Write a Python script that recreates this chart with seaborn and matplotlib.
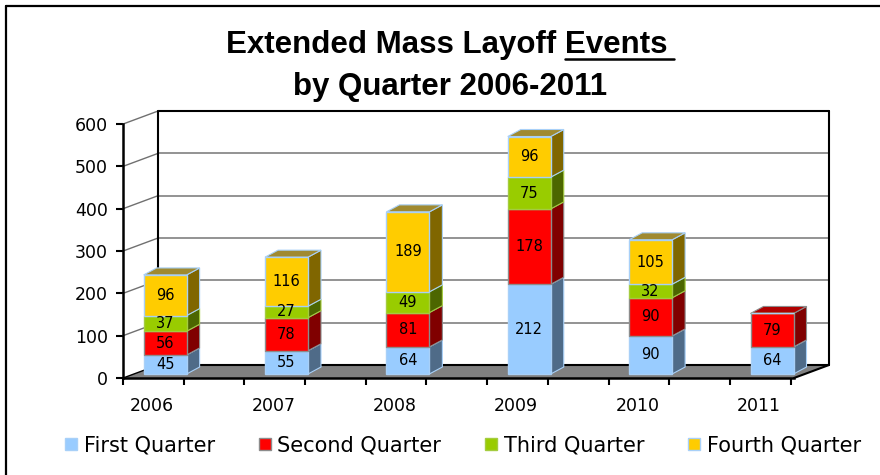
import numpy as np
import matplotlib
matplotlib.use('Agg')
import matplotlib.pyplot as plt
from matplotlib.patches import Polygon
from matplotlib.lines import Line2D
import seaborn as sns

# data
years = ['2006', '2007', '2008', '2009', '2010', '2011']
first_q = [45, 55, 64, 212, 90, 64]
second_q = [56, 78, 81, 178, 90, 79]
third_q = [37, 27, 49, 75, 32, 0]
fourth_q = [96, 116, 189, 96, 105, 0]
series_names = ['First Quarter', 'Second Quarter', 'Third Quarter', 'Fourth Quarter']
y_ticks = [0, 100, 200, 300, 400, 500, 600]

face_colors = ['#99CCFF', '#FF0000', '#99CC00', '#FFCC00']
side_colors = ['#4F6B88', '#800000', '#4C6600', '#806600']
top_colors = ['#7A9CC0', '#B00000', '#739900', '#A08A30']
edge_colors = ['#A8D0F8', '#8C8C8C', '#A4CC40', '#A8D0F8']

sns.set_style('white')
plt.rcParams['font.family'] = ['DejaVu Sans']
plt.rcParams['text.color'] = 'black'
plt.rcParams['xtick.color'] = 'black'
plt.rcParams['ytick.color'] = 'black'

fig = plt.figure(figsize=(8.8, 4.75), dpi=100)

# size of one pixel in data units
px_x = 1 / 121.4
px_y = 600 / 254

ax = fig.add_axes([123 / 880, 97 / 475, 707 / 880, 265 / 475])
x_lo = -29 * px_x
x_hi = x_lo + 671 * px_x
ax.set_xlim(x_lo, x_lo + 707 * px_x)
ax.set_ylim(0, 265 * px_y)
ax.patch.set_alpha(0)

# depth of the walls / floor
wx, wy = 35 * px_x, 13 * px_y

# floor
ax.add_patch(Polygon([(x_lo, 0), (x_hi, 0), (x_hi + wx, wy), (x_lo + wx, wy)],
                     closed=True, facecolor='#808080', edgecolor='none', zorder=1))

# gridlines on back and side wall
for v in y_ticks:
    col = 'black' if v in (0, y_ticks[-1]) else '#808080'
    lw = 1.5 if v in (0, y_ticks[-1]) else 1.2
    ax.plot([x_lo + wx, x_hi + wx], [v + wy, v + wy], color=col, lw=lw, zorder=1.5, clip_on=False)
    ax.plot([x_lo, x_lo + wx], [v, v + wy], color='#707070' if v else 'black', lw=1.0, zorder=1.5, clip_on=False)
ax.plot([x_lo + wx, x_lo + wx], [wy, y_ticks[-1] + wy], color='black', lw=1.5, zorder=1.5, clip_on=False)
ax.plot([x_hi + wx, x_hi + wx], [wy, y_ticks[-1] + wy], color='black', lw=1.5, zorder=1.5, clip_on=False)
ax.plot([x_hi, x_hi + wx], [0, wy], color='black', lw=1.5, zorder=1.5, clip_on=False)

# stacked bars with a fake 3d look
bx, by = 13 * px_x, 4 * px_y        # bar front plane offset
dx, dy = 13 * px_x, 7 * px_y        # bar depth
bw = 43 * px_x
x = np.arange(len(years))
data = np.array([first_q, second_q, third_q, fourth_q], dtype=float)
bottoms = np.vstack([np.zeros(len(years)), np.cumsum(data, axis=0)[:-1]])
totals = data.sum(axis=0)

for j in range(len(series_names)):
    vals = data[j]
    bots = bottoms[j] + by
    bars = ax.bar(x + bx, vals, width=bw, bottom=bots, color=face_colors[j],
                  edgecolor=edge_colors[j], linewidth=1, zorder=3)
    ax.bar_label(bars, labels=[str(int(v)) if v > 0 else '' for v in vals],
                 label_type='center', fontsize=10.5, color='black', zorder=4)
    for i in range(len(years)):
        if vals[i] <= 0:
            continue
        xr = x[i] + bx + bw / 2
        xl = x[i] + bx - bw / 2
        b = bots[i]
        t = b + vals[i]
        ax.add_patch(Polygon([(xr, b), (xr + dx, b + dy), (xr + dx, t + dy), (xr, t)],
                             closed=True, facecolor=side_colors[j],
                             edgecolor=edge_colors[j], lw=0.8, zorder=2.5))
        if bottoms[j][i] + vals[i] == totals[i]:
            ax.add_patch(Polygon([(xl, t), (xr, t), (xr + dx, t + dy), (xl + dx, t + dy)],
                                 closed=True, facecolor=top_colors[j],
                                 edgecolor=edge_colors[j], lw=0.8, zorder=2.5))

# axes, ticks
for s in ['top', 'right']:
    ax.spines[s].set_visible(False)
ax.spines['left'].set_bounds(0, y_ticks[-1])
ax.spines['bottom'].set_bounds(x_lo, x_hi)
for s in ['left', 'bottom']:
    ax.spines[s].set_color('black')
    ax.spines[s].set_linewidth(1.8)
    ax.spines[s].set_zorder(5)

ax.set_yticks(y_ticks)
ax.tick_params(axis='y', length=5, width=1.5, pad=6, labelsize=12.5, colors='black', left=True)
ax.set_xticks(x, years)
ax.set_xticks(np.concatenate([x - 0.24, x + 0.26]), minor=True)
ax.tick_params(axis='x', which='major', length=0, pad=14, labelsize=12.5, colors='black')
ax.tick_params(axis='x', which='minor', length=5, width=1.5, color='black', bottom=True)

# title
title_kw = dict(ha='center', va='center', fontsize=22.5, fontweight='bold',
                family='Liberation Sans', color='black')
t1 = fig.text(447 / 880, 1 - 45 / 475, 'Extended Mass Layoff Events', **title_kw)
fig.text(450 / 880, 1 - 87 / 475, 'by Quarter 2006-2011', **title_kw)

fig.canvas.draw()
r = fig.canvas.get_renderer()
bb = t1.get_window_extent(r)
tmp = fig.text(0, 0, 'Events', **title_kw)
w_ev = tmp.get_window_extent(r).width
tmp.remove()
W, H = fig.bbox.width, fig.bbox.height
fig.add_artist(Line2D([(bb.x1 - w_ev) / W, (bb.x1 + 6) / W], [(bb.y0 + 1) / H] * 2,
                      color='black', lw=1.8))

# outer border
fig.add_artist(Line2D([6 / 880, 1], [1 - 6 / 475, 1 - 6 / 475], color='black', lw=1.6))
fig.add_artist(Line2D([6 / 880, 6 / 880], [0, 1 - 6 / 475], color='black', lw=1.6))

# legend
handles = [Line2D([], [], marker='s', linestyle='none', markersize=9,
                  markerfacecolor=face_colors[j], markeredgecolor=edge_colors[j])
           for j in range(len(series_names))]
fig.legend(handles, series_names, loc='center', bbox_to_anchor=(462 / 880, 1 - 445 / 475),
           ncol=4, frameon=False, fontsize=15, handletextpad=0.2, columnspacing=2.0,
           handlelength=0.8, labelcolor='black')

fig.savefig('out.png', dpi=100)
